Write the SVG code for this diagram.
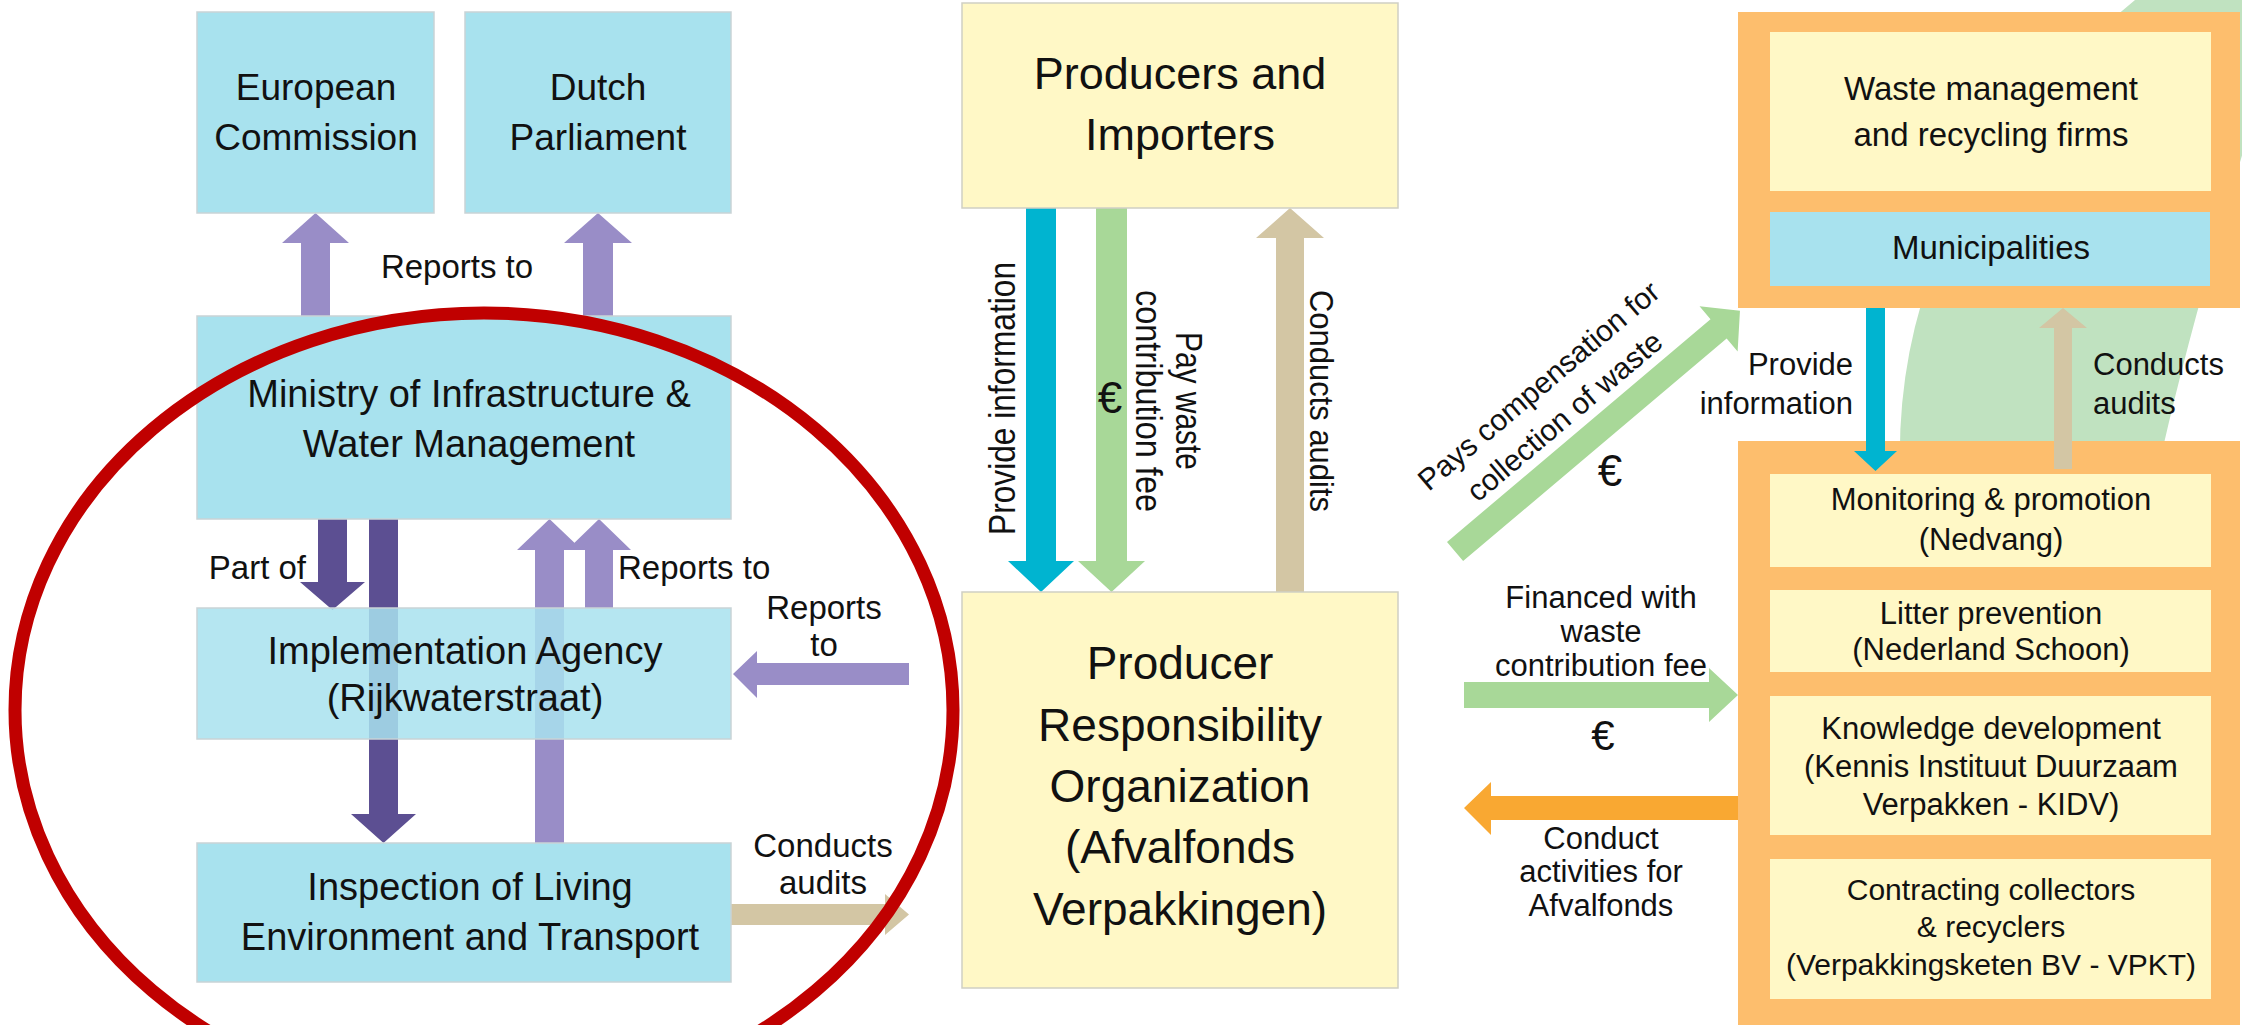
<svg xmlns="http://www.w3.org/2000/svg" width="2242" height="1025" viewBox="0 0 2242 1025">
<style>
text{font-family:"Liberation Sans",Arial,sans-serif;fill:#111}
.c{text-anchor:middle}
.r{text-anchor:end}
.blue{fill:#a8e2ee;stroke:#c9d3d6;stroke-width:1.5}
.yel{fill:#fff8c6;stroke:#cfcfc4;stroke-width:1.5}
.inner{fill:#fff8c6}
.frame{fill:#fdbe6d}
.dk{fill:#5c4f92}
.lt{fill:#998dc7}
.cy{fill:#00b4d0}
.gr{fill:#a8d898}
.tan{fill:#d3c6a4}
.or{fill:#f9a832}
</style>
<rect width="2242" height="1025" fill="#fff"/>
<path d="M2135,0 Q1893,200 1900,470 L2158,470 Q2195,300 2290,0 Z" fill="#c0e2c0"/>

<g id="collectors-frame">
  <rect class="frame" x="1738" y="12" width="502" height="296"/>
  <g id="waste-firms">
    <rect class="inner" x="1770" y="32" width="441" height="159"/>
    <text class="c" x="1991" y="100" font-size="33">Waste management</text>
    <text class="c" x="1991" y="146" font-size="33">and recycling firms</text>
  </g>
  <g id="municipalities">
    <rect fill="#a8e2ee" x="1770" y="212" width="440" height="74"/>
    <text class="c" x="1991" y="259" font-size="33">Municipalities</text>
  </g>
</g>
<g id="afvalfonds-frame">
  <rect class="frame" x="1738" y="441" width="502" height="600"/>
  <g id="monitoring">
    <rect class="inner" x="1770" y="474" width="441" height="93"/>
    <text class="c" x="1991" y="510" font-size="31">Monitoring &amp; promotion</text>
    <text class="c" x="1991" y="550" font-size="31">(Nedvang)</text>
  </g>
  <g id="litter">
    <rect class="inner" x="1770" y="590" width="441" height="82"/>
    <text class="c" x="1991" y="624" font-size="31">Litter prevention</text>
    <text class="c" x="1991" y="660" font-size="31">(Nederland Schoon)</text>
  </g>
  <g id="knowledge">
    <rect class="inner" x="1770" y="696" width="441" height="139"/>
    <text class="c" x="1991" y="739" font-size="31">Knowledge development</text>
    <text class="c" x="1991" y="777" font-size="31">(Kennis Instituut Duurzaam</text>
    <text class="c" x="1991" y="815" font-size="31">Verpakken - KIDV)</text>
  </g>
  <g id="contracting">
    <rect class="inner" x="1770" y="859" width="441" height="140"/>
    <text class="c" x="1991" y="900" font-size="30">Contracting collectors</text>
    <text class="c" x="1991" y="937" font-size="30">&amp; recyclers</text>
    <text class="c" x="1991" y="975" font-size="30">(Verpakkingsketen BV - VPKT)</text>
  </g>
</g>

<g id="connectors">
  <!-- Reports to EC / DP -->
  <polygon class="lt" points="301,316 301,243 282,243 315.5,213 349,243 330,243 330,316"/>
  <polygon class="lt" points="583,316 583,243 564,243 598,213 632,243 613,243 613,316"/>
  <!-- Part of / Ministry to Inspection -->
  <polygon class="dk" points="318,519 347,519 347,582 365,582 332.5,610 300,582 318,582"/>
  <polygon class="dk" points="369,519 398,519 398,814 416,814 383.5,843 351,814 369,814"/>
  <!-- Reports to Ministry -->
  <polygon class="lt" points="535,843 535,550 517,550 549.5,519 582,550 564,550 564,843"/>
  <polygon class="lt" points="585,608 585,550 567,550 599,519 631,550 613,550 613,608"/>
  <!-- PRO reports to Implementation -->
  <polygon class="lt" points="909,663 757,663 757,651 733,674 757,698 757,685 909,685"/>
  <!-- Inspection conducts audits -->
  <polygon class="tan" points="731,904 885,904 885,894 909,914.5 885,935 885,925 731,925"/>
  <!-- Producers <-> PRO -->
  <polygon class="cy" points="1026,208 1056,208 1056,561 1074,561 1041,592 1008,561 1026,561"/>
  <polygon class="gr" points="1096,208 1127,208 1127,561 1145,561 1111.5,592 1078,561 1096,561"/>
  <polygon class="tan" points="1276,592 1276,238 1256,238 1290,208 1324,238 1304,238 1304,592"/>
  <!-- Pays compensation -->
  <g transform="translate(1447,542) rotate(-40.2)">
    <polygon class="gr" points="0,0 345,0 345,-17 373,12.5 345,42 345,25 0,25"/>
    <text class="c" x="171" y="-50" font-size="30">Pays compensation for</text>
    <text class="c" x="171" y="-10" font-size="30">collection of waste</text>
  </g>
  <!-- Financed with -->
  <polygon class="gr" points="1464,682 1709,682 1709,668 1738,695 1709,722 1709,708 1464,708"/>
  <!-- Conduct activities -->
  <polygon class="or" points="1738,796 1491,796 1491,782 1464,808 1491,835 1491,820 1738,820"/>
  <!-- Municipalities <-> Monitoring -->
  <polygon class="cy" points="1866,308 1885,308 1885,451 1897,451 1875.5,471 1854,451 1866,451"/>
  <polygon class="tan" points="2054,469 2054,328 2039,328 2063,308 2087,328 2072,328 2072,469"/>

  <text class="c" x="457" y="278" font-size="33">Reports to</text>
  <text class="r" x="306" y="579" font-size="33">Part of</text>
  <text x="618" y="579" font-size="33">Reports to</text>
  <text class="c" x="824" y="619" font-size="33">Reports</text>
  <text class="c" x="824" y="656" font-size="33">to</text>
  <text class="c" x="823" y="857" font-size="33">Conducts</text>
  <text class="c" x="823" y="894" font-size="33">audits</text>
  <text class="c" transform="translate(1015,398.5) rotate(-90)" font-size="37" textLength="273" lengthAdjust="spacingAndGlyphs">Provide information</text>
  <text class="c" transform="translate(1176,401) rotate(90)" font-size="37" textLength="138" lengthAdjust="spacingAndGlyphs">Pay waste</text>
  <text class="c" transform="translate(1136,401) rotate(90)" font-size="37" textLength="222" lengthAdjust="spacingAndGlyphs">contribution fee</text>
  <text class="c" transform="translate(1310,401) rotate(90)" font-size="34" textLength="222" lengthAdjust="spacingAndGlyphs">Conducts audits</text>
  <text class="c" x="1110" y="413" font-size="44">€</text>
  <text class="c" x="1610" y="486" font-size="44">€</text>
  <text class="c" x="1601" y="608" font-size="31">Financed with</text>
  <text class="c" x="1601" y="642" font-size="31">waste</text>
  <text class="c" x="1601" y="676" font-size="31">contribution fee</text>
  <text class="c" x="1603" y="750" font-size="42">€</text>
  <text class="c" x="1601" y="849" font-size="31">Conduct</text>
  <text class="c" x="1601" y="882" font-size="31">activities for</text>
  <text class="c" x="1601" y="916" font-size="31">Afvalfonds</text>
  <text class="r" x="1853" y="375" font-size="31">Provide</text>
  <text class="r" x="1853" y="414" font-size="31">information</text>
  <text x="2093" y="375" font-size="31">Conducts</text>
  <text x="2093" y="414" font-size="31">audits</text>
</g>

<g id="european-commission">
  <rect class="blue" x="197" y="12" width="237" height="201"/>
  <text class="c" x="316" y="100" font-size="37">European</text>
  <text class="c" x="316" y="150" font-size="37">Commission</text>
</g>
<g id="dutch-parliament">
  <rect class="blue" x="465" y="12" width="266" height="201"/>
  <text class="c" x="598" y="100" font-size="37">Dutch</text>
  <text class="c" x="598" y="150" font-size="37">Parliament</text>
</g>
<g id="ministry">
  <rect class="blue" x="197" y="316" width="534" height="203"/>
  <text class="c" x="469" y="407" font-size="38">Ministry of Infrastructure &amp;</text>
  <text class="c" x="469" y="457" font-size="38">Water Management</text>
</g>
<g id="implementation-agency">
  <rect class="blue" x="197" y="608" width="534" height="131" fill-opacity="0.85"/>
  <text class="c" x="465" y="664" font-size="38">Implementation Agency</text>
  <text class="c" x="465" y="711" font-size="38">(Rijkwaterstraat)</text>
</g>
<g id="inspection">
  <rect class="blue" x="197" y="843" width="534" height="139"/>
  <text class="c" x="470" y="900" font-size="38">Inspection of Living</text>
  <text class="c" x="470" y="950" font-size="38">Environment and Transport</text>
</g>
<g id="producers">
  <rect class="yel" x="962" y="3" width="436" height="205"/>
  <text class="c" x="1180" y="89" font-size="45">Producers and</text>
  <text class="c" x="1180" y="150" font-size="45">Importers</text>
</g>
<g id="pro">
  <rect class="yel" x="962" y="592" width="436" height="396"/>
  <text class="c" x="1180" y="679" font-size="46">Producer</text>
  <text class="c" x="1180" y="741" font-size="46">Responsibility</text>
  <text class="c" x="1180" y="802" font-size="46">Organization</text>
  <text class="c" x="1180" y="863" font-size="46">(Afvalfonds</text>
  <text class="c" x="1180" y="925" font-size="46">Verpakkingen)</text>
</g>
<ellipse id="highlight" cx="484" cy="710" rx="469" ry="397" fill="none" stroke="#c00000" stroke-width="13"/>
</svg>
